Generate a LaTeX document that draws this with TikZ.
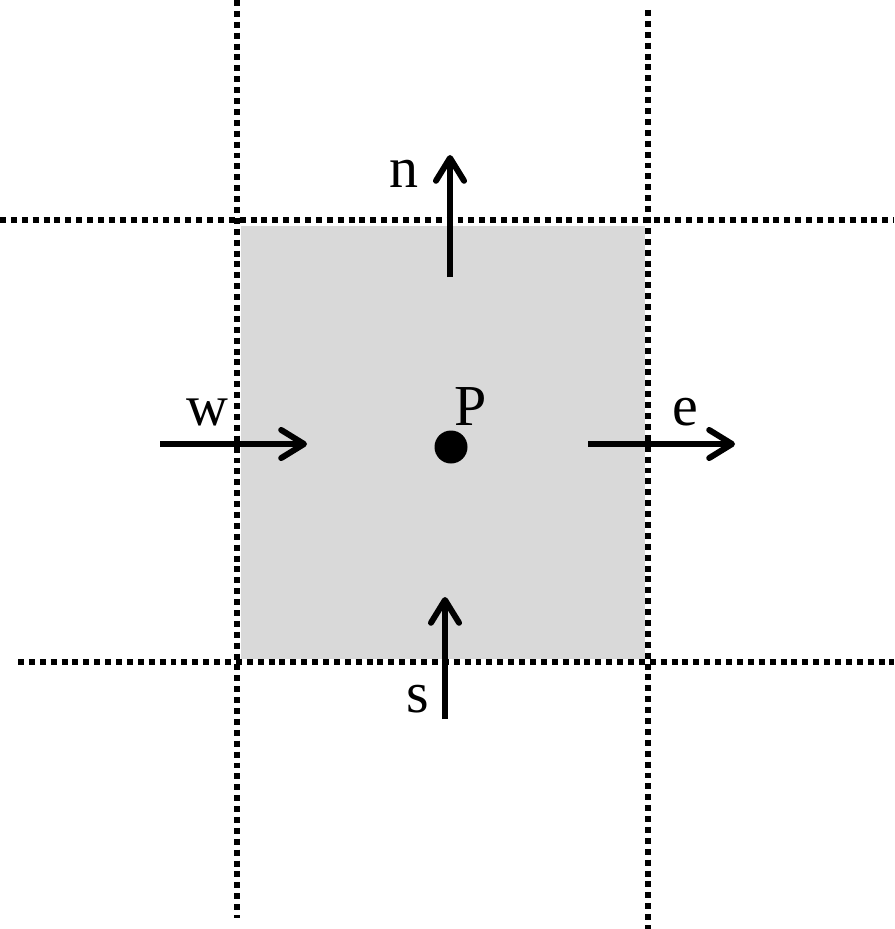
\documentclass[tikz,border=0pt]{standalone}
\usepackage{fontspec}
\setmainfont{Liberation Serif}
\usepackage{xcolor}
\usepackage{tikz}
\usetikzlibrary{arrows.meta}

\definecolor{cellgrey}{RGB}{217,217,217}

\begin{document}
\begin{tikzpicture}[x=0.02cm, y=-0.02cm, thick]
\tikzset{gridline/.style={line width=3.4pt, dash pattern=on 3.4pt off 2.8pt},
  flux/.style={line width=3.4pt, -{Straight Barb[length=13pt, width=16pt, round]}},
  lbl/.style={inner sep=0pt, font=\fontsize{33}{36}\selectfont}}
\useasboundingbox (0, 0) rectangle (894, 929);
\fill[cellgrey] (241, 226) rectangle (645, 659);
\draw[gridline] (237, 0) -- (237, 918);
\draw[gridline] (648, 10) -- (648, 929);
\draw[gridline] (0, 220) -- (894, 220);
\draw[gridline] (18, 662) -- (894, 662);
% fluxes through the faces
\coordinate (w0) at (160, 444); \coordinate (w1) at (307, 444);
\coordinate (e0) at (588, 444); \coordinate (e1) at (735, 444);
\coordinate (n0) at (450, 277); \coordinate (n1) at (450, 155);
\coordinate (s0) at (445, 719); \coordinate (s1) at (445, 597);
\draw[flux] (w0) -- (w1);
\draw[flux] (e0) -- (e1);
\draw[flux] (n0) -- (n1);
\draw[flux] (s0) -- (s1);
\fill (451, 447) circle (16.5) coordinate (P);
\node[lbl] (Plbl) at (471, 407) {P};
\node[lbl] (wlbl) at (207, 412) {w};
\node[lbl] (elbl) at (685, 412) {e};
\node[lbl] (nlbl) at (404, 174) {n};
\node[lbl] (slbl) at (418, 699) {s};
\end{tikzpicture}
\end{document}
